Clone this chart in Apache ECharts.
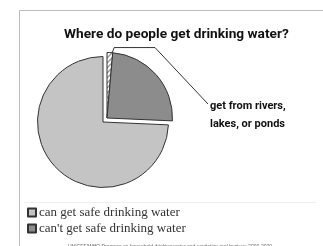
<!DOCTYPE html>
<html>
<head>
<meta charset="utf-8">
<script src="https://cdn.jsdelivr.net/npm/echarts@6/dist/echarts.min.js"></script>
<style>
  html, body { margin: 0; padding: 0; background: #fff; }
  #chart { width: 323px; height: 246px; }
</style>
</head>
<body>
<div id="chart"></div>
<script>
// categories and shares (percent of people)
const categories = ["get from rivers, lakes, or ponds", "can't get safe drinking water", "can get safe drinking water"];
const shares = [1.4, 24.3, 74.3];
const colors = ["striped", "#8c8c8c", "#c4c4c4"];
const legendItems = ["can get safe drinking water", "can't get safe drinking water"];

const chartDom = document.getElementById("chart");
const myChart = echarts.init(chartDom, null, { renderer: "canvas" });

// hatch pattern for the small slice
const hatch = document.createElement("canvas");
hatch.width = 5;
hatch.height = 5;
const hctx = hatch.getContext("2d");
hctx.fillStyle = "#fff";
hctx.fillRect(0, 0, 5, 5);
hctx.strokeStyle = "#999";
hctx.lineWidth = 1.4;
hctx.beginPath();
hctx.moveTo(0, 5); hctx.lineTo(5, 0);
hctx.moveTo(-3, 3); hctx.lineTo(3, -3);
hctx.moveTo(2, 8); hctx.lineTo(8, 2);
hctx.stroke();

const fillFor = (c) => (c === "striped" ? { image: hatch, repeat: "repeat" } : c);
const border = { borderColor: "#333", borderWidth: 1 };
const blank = { color: "transparent", borderWidth: 0 };

const mainCenter = [103, 122];
const pulledCenter = [107, 118];
const radius = 65.5;
const labelPos = [210, 97];

// the pulled-out part: hatched + dark slices
const pulledData = [
  {
    name: categories[0],
    value: shares[0],
    itemStyle: { color: fillFor(colors[0]), ...border },
    label: {
      show: true,
      position: "outside",
      formatter: "get from rivers,\nlakes, or ponds",
      fontFamily: "Roboto",
      fontWeight: "bold",
      fontSize: 11,
      lineHeight: 18,
      color: "#111",
      align: "left",
    },
    labelLine: { show: true, lineStyle: { color: "#333", width: 1 } },
  },
  { name: categories[1], value: shares[1], itemStyle: { color: fillFor(colors[1]), ...border } },
  { name: "_rest", value: shares[2], itemStyle: blank, label: { show: false }, emphasis: { disabled: true } },
];

// the main part: light slice
const mainData = [
  { name: "_gap", value: shares[0] + shares[1], itemStyle: blank, label: { show: false } },
  { name: categories[2], value: shares[2], itemStyle: { color: fillFor(colors[2]), ...border } },
];

// leader line from the middle of the hatched slice
const mid = ((90 - (360 * shares[0]) / 200) * Math.PI) / 180;
const at = (r) => [pulledCenter[0] + r * Math.cos(mid), pulledCenter[1] - r * Math.sin(mid)];

const option = {
  animation: false,
  title: [
    {
      text: "Where do people get drinking water?",
      left: 59,
      top: 23,
      textStyle: { fontFamily: "Roboto", fontWeight: "bold", fontSize: 13.7, color: "#111" },
    },
    {
      text: "UNICEF/WHO Progress on household drinking water and sanitation and hygiene 2000-2020",
      left: 63,
      top: 239,
      textStyle: { fontFamily: "Liberation Sans", fontWeight: "normal", fontSize: 5, color: "#666" },
    },
  ],
  legend: {
    data: legendItems,
    orient: "vertical",
    left: 27,
    top: 206,
    height: 40,
    padding: 0,
    icon: "rect",
    itemWidth: 8,
    itemHeight: 8,
    itemGap: 3,
    textStyle: { fontFamily: "Liberation Serif", fontSize: 13, color: "#333", padding: [0, 0, 0, -2] },
    selectedMode: false,
  },
  graphic: [
    { type: "rect", shape: { x: 19.5, y: 10.5, width: 400, height: 300 }, style: { fill: "none", stroke: "#bbb", lineWidth: 1 }, silent: true },
    { type: "line", shape: { x1: 24, y1: 202.5, x2: 316, y2: 202.5 }, style: { stroke: "#eee", lineWidth: 1 }, silent: true },
  ],
  series: [
    {
      type: "pie",
      name: "main",
      center: mainCenter,
      radius: radius,
      startAngle: 90,
      clockwise: true,
      label: { show: false },
      labelLine: { show: false },
      silent: true,
      data: mainData,
    },
    {
      type: "pie",
      name: "pulled",
      center: pulledCenter,
      radius: radius,
      startAngle: 90,
      clockwise: true,
      label: { show: false },
      labelLine: { show: false },
      silent: true,
      data: pulledData,
      labelLayout: (params) => {
        if (!params.labelLinePoints) return {};
        const inner = at(radius * 0.88);
        const outer = at(radius + 5);
        outer[0] += 4;
        return {
          x: labelPos[0],
          y: labelPos[1],
          align: "left",
          verticalAlign: "top",
          labelLinePoints: [inner, outer, [155, outer[1]], [labelPos[0] - 2, labelPos[1] + 7]],
        };
      },
    },
  ],
};

myChart.setOption(option);
</script>
</body>
</html>
